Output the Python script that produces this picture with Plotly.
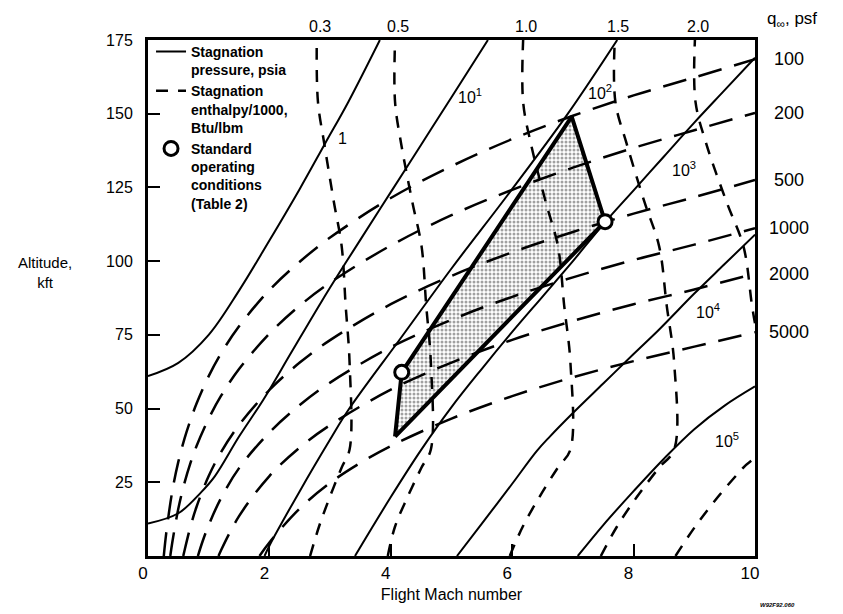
import plotly.graph_objects as go

# ---------------- data (Mach number, altitude in kft) ----------------
# Stagnation pressure lines, psia
p0_names = ["1", "10<sup>1</sup>", "10<sup>2</sup>", "10<sup>3</sup>", "10<sup>4</sup>", "10<sup>5</sup>"]
p0_1_mach = [0, 0.5, 1.0, 1.5, 2.0, 2.5, 2.92, 3.3, 3.82]
p0_1_alt = [61, 65.5, 75, 90, 107, 124.5, 140, 154, 175]
p0_10_mach = [0, 0.5, 0.87, 1.1, 1.5, 1.9, 2.36, 2.85, 3.16, 3.5, 4.0, 4.5, 5.0, 5.6]
p0_10_alt = [11, 14.5, 21.5, 27, 40.5, 53, 69, 86, 96.3, 107.3, 123.4, 139.5, 155.6, 175]
p0_100_mach = [1.92, 2.0, 2.5, 3.0, 3.3, 4.15, 5.0, 5.91, 6.9, 7.73]
p0_100_alt = [0, 3.5, 22, 39.5, 49.5, 73.5, 97.5, 122, 149.5, 175]
p0_1000_mach = [3.41, 4.0, 4.5, 5.0, 5.5, 6.0, 6.5, 7.0, 7.5, 8.0, 8.5, 9.0, 9.5, 10.0]
p0_1000_alt = [0, 20, 36, 50.5, 63.5, 76, 88, 100, 112.5, 124, 135.5, 147, 158, 169]
p0_1e4_mach = [5.09, 5.5, 6.0, 6.4, 6.62, 7.0, 7.5, 8.0, 8.43, 9.0, 9.5, 10.0]
p0_1e4_alt = [0, 11, 24.5, 35.5, 40.5, 48.5, 58.5, 68.5, 77, 89, 99, 109]
p0_1e5_mach = [7.08, 7.5, 8.0, 8.5, 9.0, 9.5, 10.0]
p0_1e5_alt = [0, 10.5, 22, 33, 43, 51, 57.5]
# label positions for the pressure lines
p0_lab_mach = [3.21, 5.3, 7.45, 8.83, 9.23, 9.54]
p0_lab_alt = [141.6, 156, 157.5, 131.4, 83, 39.5]

# Stagnation enthalpy/1000 lines, Btu/lbm
h_names = ["0.3", "0.5", "1.0", "1.5", "2.0"]
h_alt = [0, 10, 20, 30, 36.1, 65.6, 85, 105, 120, 140, 154, 175]
h03_mach = [2.67, 2.818, 2.995, 3.191, 3.321, 3.321, 3.256, 3.191, 3.063, 2.903, 2.80, 2.78]
h05_mach = [3.95, 4.07, 4.276, 4.506, 4.66, 4.66, 4.583, 4.507, 4.355, 4.169, 4.07, 4.07]
h10_mach = [5.96, 6.175, 6.448, 6.753, 6.959, 6.959, 6.856, 6.754, 6.553, 6.306, 6.18, 6.18]
h15_mach = [7.46, 7.727, 8.053, 8.421, 8.668, 8.668, 8.545, 8.421, 8.18, 7.883, 7.70, 7.69]
h20_mach = [8.69, 9.015, 9.388, 9.808, 10.092, 10.092, 9.95, 9.81, 9.533, 9.194, 9.02, 9.01]

# Dynamic pressure lines, psf
q_names = ["100", "200", "500", "1000", "2000", "5000"]
q100_mach = [0.26, 0.3, 0.4, 0.5, 0.6, 0.7, 0.8, 1.0, 1.2, 1.5, 2, 2.5, 3, 4, 5, 6, 7, 8, 9, 10]
q100_alt = [0, 7.7, 22.0, 32.0, 39.7, 46.1, 51.7, 61.0, 68.6, 77.9, 90.2, 99.8, 108.0, 121.4, 132.2, 141.4, 149.3, 156.2, 162.3, 168.5]
q200_mach = [0.367, 0.4, 0.5, 0.6, 0.7, 0.8, 1.0, 1.2, 1.5, 2, 2.5, 3, 4, 5, 6, 7, 8, 9, 10]
q200_alt = [0, 4.6, 16.1, 24.7, 31.6, 37.3, 46.6, 54.2, 63.4, 75.4, 84.9, 92.7, 105.3, 115.6, 124.2, 131.7, 138.4, 144.4, 150.3]
q500_mach = [0.581, 0.6, 0.7, 0.8, 1.0, 1.2, 1.5, 2, 2.5, 3, 4, 5, 6, 7, 8, 9, 10]
q500_alt = [0, 1.7, 10.0, 16.7, 27.1, 35.1, 44.4, 56.3, 65.6, 73.2, 85.4, 95.0, 103.0, 109.9, 116.1, 121.7, 127.5]
q1000_mach = [0.822, 0.9, 1.0, 1.2, 1.5, 2, 2.5, 3, 4, 5, 6, 7, 8, 9, 10]
q1000_alt = [0, 5.0, 10.5, 19.5, 29.8, 41.9, 51.2, 58.8, 70.8, 80.1, 87.9, 94.5, 100.4, 105.6, 111.2]
q2000_mach = [1.162, 1.2, 1.5, 2, 2.5, 3, 4, 5, 6, 7, 8, 9, 10]
q2000_alt = [0, 1.8, 13.5, 27.1, 36.8, 44.4, 56.4, 65.6, 73.3, 79.7, 85.4, 90.4, 95.8]
q5000_mach = [1.837, 2, 2.5, 3, 3.5, 4, 5, 6, 7, 8, 9, 10]
q5000_alt = [0, 4.6, 16.1, 24.8, 31.6, 37.3, 46.6, 54.2, 60.6, 66.1, 71.0, 75.9]

# Operating envelope and standard operating conditions
env_mach = [4.07, 4.18, 6.98, 7.53, 4.07]
env_alt = [40.5, 62.3, 149, 113.4, 40.5]
op_mach = [4.18, 7.53]
op_alt = [62.3, 113.4]

x_ticks = [0, 2, 4, 6, 8, 10]
y_ticks = [25, 50, 75, 100, 125, 150, 175]

# ---------------- figure ----------------
FONT = "Liberation Sans, Arial, sans-serif"
fig = go.Figure()

# envelope stipple fill (under the lines)
fig.add_trace(go.Scatter(
    x=env_mach, y=env_alt, mode="lines", fill="toself",
    fillcolor="rgba(255,255,255,0)",
    fillpattern=dict(shape=".", fgcolor="#444444", bgcolor="white", size=4, solidity=0.45),
    line=dict(width=0, color="black"), showlegend=False, hoverinfo="skip"))

q_sets = [(q100_mach, q100_alt), (q200_mach, q200_alt), (q500_mach, q500_alt),
          (q1000_mach, q1000_alt), (q2000_mach, q2000_alt), (q5000_mach, q5000_alt)]
for (mx, ay), nm in zip(q_sets, q_names):
    fig.add_trace(go.Scatter(x=mx, y=ay, mode="lines", name="q = " + nm + " psf",
                             line=dict(color="black", width=2.5, dash="24px,13px"),
                             showlegend=False, line_shape="spline"))

h_sets = [h03_mach, h05_mach, h10_mach, h15_mach, h20_mach]
for i, (mx, nm) in enumerate(zip(h_sets, h_names)):
    fig.add_trace(go.Scatter(x=mx, y=h_alt, mode="lines",
                             name="Stagnation<br>enthalpy/1000,<br>Btu/lbm",
                             line=dict(color="black", width=2.5, dash="12px,10px"),
                             showlegend=(i == 0), legendrank=2, line_shape="spline"))

p_sets = [(p0_1_mach, p0_1_alt), (p0_10_mach, p0_10_alt), (p0_100_mach, p0_100_alt),
          (p0_1000_mach, p0_1000_alt), (p0_1e4_mach, p0_1e4_alt), (p0_1e5_mach, p0_1e5_alt)]
for i, (mx, ay) in enumerate(p_sets):
    fig.add_trace(go.Scatter(x=mx, y=ay, mode="lines",
                             name="Stagnation<br>pressure, psia",
                             line=dict(color="black", width=2),
                             showlegend=(i == 0), legendrank=1, line_shape="spline"))

# envelope border
fig.add_trace(go.Scatter(x=env_mach, y=env_alt, mode="lines",
                         line=dict(color="black", width=4), showlegend=False))
# standard operating conditions
fig.add_trace(go.Scatter(x=op_mach, y=op_alt, mode="markers",
                         name="Standard<br>operating<br>conditions<br>(Table 2)",
                         marker=dict(symbol="circle", size=14, color="white",
                                     line=dict(color="black", width=3)),
                         legendrank=3))

# labels on pressure lines
for nm, mx, ay in zip(p0_names, p0_lab_mach, p0_lab_alt):
    fig.add_annotation(x=mx, y=ay, text=nm, showarrow=False,
                       font=dict(size=16, color="black", family=FONT))

# enthalpy labels along the top
h_tops = [m[-1] for m in h_sets]
for nm, mx in zip(h_names, h_tops):
    fig.add_annotation(x=mx + 0.05, y=1.0, yref="paper", yanchor="bottom", yshift=3,
                       text=nm, showarrow=False,
                       font=dict(size=16, color="black", family=FONT))

# dynamic pressure labels on the right
q_ends = [s[1][-1] for s in q_sets]
for nm, ay in zip(q_names, q_ends):
    fig.add_annotation(x=1.0, xref="paper", xanchor="center", xshift=34, y=ay,
                       text=nm, showarrow=False,
                       font=dict(size=18, color="black", family=FONT))
fig.add_annotation(x=1.0, xref="paper", xanchor="center", xshift=37, y=1.0, yref="paper",
                   yanchor="bottom", yshift=7, text="q<sub>∞</sub>, psf", showarrow=False,
                   font=dict(size=17, color="black", family=FONT))

# y axis title (horizontal)
fig.add_annotation(x=0, xref="paper", xanchor="center", xshift=-103, y=96, text="Altitude,<br>kft",
                   showarrow=False, font=dict(size=15, color="black", family=FONT))
# drawing number
fig.add_annotation(x=1.0, xref="paper", xanchor="center", xshift=22, y=0, yref="paper",
                   yanchor="top", yshift=-44, text="<i><b>W92F92.060</b></i>", showarrow=False,
                   font=dict(size=6, color="black", family=FONT))

fig.update_xaxes(range=[0, 10], tickvals=x_ticks, ticktext=[str(v) for v in x_ticks],
                 ticks="inside", ticklen=12, tickwidth=2, tickcolor="black",
                 ticklabelshift=-5,
                 showline=True, linewidth=3, linecolor="black", mirror=True,
                 showgrid=False, zeroline=False,
                 tickfont=dict(size=17, color="black", family=FONT),
                 title=dict(text="Flight Mach number", standoff=7,
                            font=dict(size=16, color="black", family=FONT)))
fig.update_yaxes(range=[0, 175], tickvals=y_ticks, ticktext=[str(v) for v in y_ticks],
                 ticks="inside", ticklen=12, tickwidth=2, tickcolor="black",
                 ticklabelstandoff=9,
                 showline=True, linewidth=3, linecolor="black", mirror=True,
                 showgrid=False, zeroline=False,
                 tickfont=dict(size=16, color="black", family=FONT))

fig.update_layout(
    width=843, height=614,
    margin=dict(l=148, r=88, t=40, b=58),
    paper_bgcolor="white", plot_bgcolor="white",
    font=dict(family=FONT, color="black"),
    legend=dict(x=0.005, y=1.008, xanchor="left", yanchor="top", valign="top",
                bgcolor="rgba(255,255,255,0)", borderwidth=0,
                font=dict(size=14, color="black", family=FONT, weight="bold"),
                tracegroupgap=0, itemwidth=30),
    showlegend=True,
)

fig.write_html("out.html")
